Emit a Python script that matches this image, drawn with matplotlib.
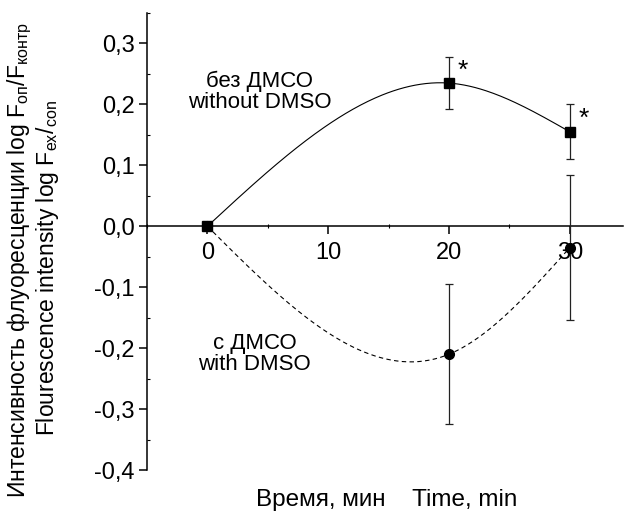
import numpy as np
import matplotlib
matplotlib.use("Agg")
import matplotlib.pyplot as plt
from matplotlib.ticker import FuncFormatter, MultipleLocator

plt.rcParams["font.family"] = ["Liberation Sans", "DejaVu Sans"]
plt.rcParams["mathtext.fontset"] = "custom"
plt.rcParams["mathtext.rm"] = "Liberation Sans"
plt.rcParams["mathtext.it"] = "Liberation Sans"
plt.rcParams["mathtext.default"] = "regular"

# ── data ───────────────────────────────────────────────────────────────────────
time_min = [0, 20, 30]

no_dmso = [0.0, 0.235, 0.155]
no_dmso_err = [0.0, 0.043, 0.045]

with_dmso = [0.0, -0.21, -0.035]
with_dmso_err = [0.0, 0.115, 0.119]

signif = [False, True, True]   # asterisks on the "without DMSO" series


def natural_spline(x, y, n=200):
    """Natural cubic spline through the points, for a smooth connecting line."""
    x = np.asarray(x, float)
    y = np.asarray(y, float)
    k = len(x)
    h = np.diff(x)
    A = np.zeros((k, k))
    r = np.zeros(k)
    A[0, 0] = A[-1, -1] = 1.0
    for i in range(1, k - 1):
        A[i, i - 1] = h[i - 1]
        A[i, i] = 2 * (h[i - 1] + h[i])
        A[i, i + 1] = h[i]
        r[i] = 6 * ((y[i + 1] - y[i]) / h[i] - (y[i] - y[i - 1]) / h[i - 1])
    M = np.linalg.solve(A, r)
    xs = np.linspace(x[0], x[-1], n)
    ys = np.empty_like(xs)
    for j, t in enumerate(xs):
        i = min(np.searchsorted(x, t, side="right") - 1, k - 2)
        a, b = x[i + 1] - t, t - x[i]
        ys[j] = (M[i] * a**3 + M[i + 1] * b**3) / (6 * h[i]) \
            + (y[i] / h[i] - M[i] * h[i] / 6) * a \
            + (y[i + 1] / h[i] - M[i + 1] * h[i] / 6) * b
    return xs, ys


fig = plt.figure(figsize=(6.24, 5.13), dpi=100)
ax = fig.add_axes([147 / 624, 43 / 513, 476 / 624, 457 / 513])

# smooth connecting curves
xs, ys = natural_spline(time_min, no_dmso)
ax.plot(xs, ys, color="black", lw=0.8, zorder=2)
xs, ys = natural_spline(time_min, with_dmso)
ax.plot(xs, ys, color="black", lw=0.8, ls=(0, (4, 3)), zorder=2)

ax.errorbar(time_min, no_dmso, yerr=no_dmso_err, fmt="s", color="black",
            ms=6.5, ecolor="#222222", elinewidth=0.9, capsize=3, capthick=0.9,
            zorder=3, clip_on=False)
ax.errorbar(time_min, with_dmso, yerr=with_dmso_err, fmt="o", color="black",
            ms=7, ecolor="#222222", elinewidth=0.9, capsize=3, capthick=0.9,
            zorder=3, clip_on=False)

for t, v, e, s in zip(time_min, no_dmso, no_dmso_err, signif):
    if s:
        ax.annotate("*", (t, v), xytext=(10, 9), textcoords="offset points",
                    fontsize=19, ha="center", va="center")

ax.text(4.3, 0.22, "без ДМСО\nwithout DMSO", fontsize=16,
        ha="center", va="center", linespacing=1.0)
ax.text(3.9, -0.21, "с ДМСО\nwith DMSO", fontsize=16,
        ha="center", va="center", linespacing=1.0)

# ── axes ───────────────────────────────────────────────────────────────────────
ax.set_xlim(-5, 34.4)
ax.set_ylim(-0.4, 0.35)
ax.spines["top"].set_visible(False)
ax.spines["right"].set_visible(False)
ax.spines["bottom"].set_position(("data", 0))
for sp in ("left", "bottom"):
    ax.spines[sp].set_linewidth(1.1)

ax.set_xticks([0, 10, 20, 30])
ax.xaxis.set_minor_locator(MultipleLocator(5))
ax.yaxis.set_major_locator(MultipleLocator(0.1))
ax.yaxis.set_minor_locator(MultipleLocator(0.05))
ax.yaxis.set_major_formatter(FuncFormatter(lambda v, p: f"{v:.1f}".replace(".", ",").replace("-0,0", "0,0")))

ax.tick_params(axis="both", which="major", labelsize=17, width=1.1, length=6, direction="out")
ax.tick_params(axis="x", which="major", pad=5)
ax.tick_params(axis="y", which="major", pad=3)
ax.tick_params(axis="x", which="minor", length=3, width=0.8, direction="inout")
ax.tick_params(axis="y", which="minor", length=2, width=0.8, direction="in")

# two-line y label, written as separate lines to keep the subscripts apart
fig.text(20 / 624, 1 - 260 / 513,
         "Интенсивность флуоресценции log F$_{оп}$/F$_{контр}$",
         rotation=90, fontsize=16.5, ha="center", va="center")
fig.text(48 / 624, 1 - 268 / 513,
         "Flourescence intensity log F$_{ex}$/$_{con}$",
         rotation=90, fontsize=16.5, ha="center", va="center")
fig.text(387 / 624, 1 - 500 / 513, "Время, мин    Time, min",
         fontsize=17.5, ha="center", va="center")

fig.savefig("out.png", dpi=100)
